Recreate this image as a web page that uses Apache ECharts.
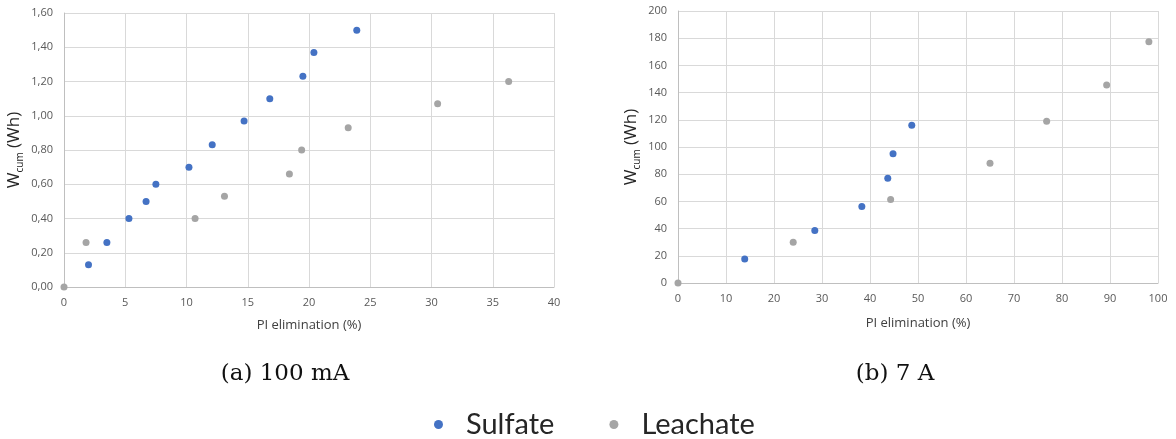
<!DOCTYPE html>
<html>
<head>
<meta charset="UTF-8">
<title>W cum vs PI elimination</title>
<style>
  html, body { margin: 0; padding: 0; background: #fff; }
  #main { width: 1176px; height: 439px; }
</style>
</head>
<body>
<div id="main"></div>
<script src="https://cdn.jsdelivr.net/npm/echarts@6/dist/echarts.min.js"></script>
<script>
// (a) 100 mA
var sulfateA_x = [2.0, 3.5, 5.3, 6.7, 7.5, 10.2, 12.1, 14.7, 16.8, 19.5, 20.4, 23.9];
var sulfateA_y = [0.13, 0.26, 0.40, 0.50, 0.60, 0.70, 0.83, 0.97, 1.10, 1.23, 1.37, 1.50];
var leachateA_x = [0, 1.8, 10.7, 13.1, 18.4, 19.4, 23.2, 30.5, 36.3];
var leachateA_y = [0, 0.26, 0.40, 0.53, 0.66, 0.80, 0.93, 1.07, 1.20];
// (b) 7 A
var sulfateB_x = [13.9, 28.5, 38.3, 43.7, 44.8, 48.7];
var sulfateB_y = [17.6, 38.6, 56.2, 77, 95, 116];
var leachateB_x = [0, 24.0, 44.3, 65.0, 76.8, 89.3, 98.1];
var leachateB_y = [0, 30, 61.4, 88, 119, 145.5, 177.3];

var captions = ['(a) 100 mA', '(b) 7 A'];
var seriesNames = ['Sulfate', 'Leachate'];

var blue = '#4472C4', grey = '#A5A5A5';
var sans = '"Open Sans", sans-serif';

function pairs(xs, ys) {
  var out = [];
  for (var i = 0; i < xs.length; i++) out.push([xs[i], ys[i]]);
  return out;
}

function xAx(idx, max, interval, gap) {
  return {
    type: 'value', gridIndex: idx, min: 0, max: max, interval: interval,
    name: 'PI elimination (%)', nameLocation: 'middle', nameGap: gap,
    nameTextStyle: { fontFamily: sans, fontSize: 13, color: '#404040' },
    axisLine: { show: true, lineStyle: { color: '#BFBFBF' } },
    axisTick: { show: false },
    axisLabel: { fontFamily: sans, fontSize: 11, color: '#595959', margin: 10 },
    splitLine: { show: true, lineStyle: { color: '#D9D9D9' } }
  };
}

function yAx(idx, max, interval, gap, fmt) {
  return {
    type: 'value', gridIndex: idx, min: 0, max: max, interval: interval,
    name: '{w|W}{s|cum}{w| (Wh)}', nameLocation: 'middle', nameGap: gap, nameRotate: 90,
    nameTextStyle: {
      rich: {
        w: { fontFamily: sans, fontSize: 17, color: '#262626', lineHeight: 22 },
        s: { fontFamily: sans, fontSize: 10, color: '#262626', lineHeight: 10, verticalAlign: 'bottom' }
      }
    },
    axisLine: { show: true, lineStyle: { color: '#BFBFBF' } },
    axisTick: { show: false },
    axisLabel: { fontFamily: sans, fontSize: 11, color: '#595959', margin: 11, formatter: fmt },
    splitLine: { show: true, lineStyle: { color: '#D9D9D9' } }
  };
}

function scatter(name, xi, data, color) {
  return {
    name: name, type: 'scatter', xAxisIndex: xi, yAxisIndex: xi,
    symbolSize: 7, data: data, itemStyle: { color: color, opacity: 1 }
  };
}

var myChart = echarts.init(document.getElementById('main'));
myChart.setOption({
  animation: false,
  grid: [
    { left: 64, top: 13, width: 490, height: 274 },
    { left: 678, top: 11, width: 480, height: 272 }
  ],
  xAxis: [xAx(0, 40, 5, 32), xAx(1, 100, 10, 34)],
  yAxis: [
    yAx(0, 1.6, 0.2, 39, function (v) { return v.toFixed(2).replace('.', ','); }),
    yAx(1, 200, 20, 36, null)
  ],
  legend: {
    data: seriesNames, left: 434, top: 410, padding: 0,
    icon: 'circle', itemWidth: 9, itemHeight: 9, itemGap: 55,
    textStyle: { fontFamily: 'Lato, sans-serif', fontSize: 29, color: '#262626', padding: [0, 0, 0, 18] }
  },
  graphic: [
    { type: 'text', style: { x: 285, y: 374, text: captions[0], fontFamily: '"DejaVu Serif", serif', fontSize: 23, fill: '#111', textAlign: 'center', textVerticalAlign: 'middle' } },
    { type: 'text', style: { x: 895, y: 374, text: captions[1], fontFamily: '"DejaVu Serif", serif', fontSize: 23, fill: '#111', textAlign: 'center', textVerticalAlign: 'middle' } }
  ],
  series: [
    scatter(seriesNames[0], 0, pairs(sulfateA_x, sulfateA_y), blue),
    scatter(seriesNames[1], 0, pairs(leachateA_x, leachateA_y), grey),
    scatter(seriesNames[0], 1, pairs(sulfateB_x, sulfateB_y), blue),
    scatter(seriesNames[1], 1, pairs(leachateB_x, leachateB_y), grey)
  ]
});
</script>
</body>
</html>
